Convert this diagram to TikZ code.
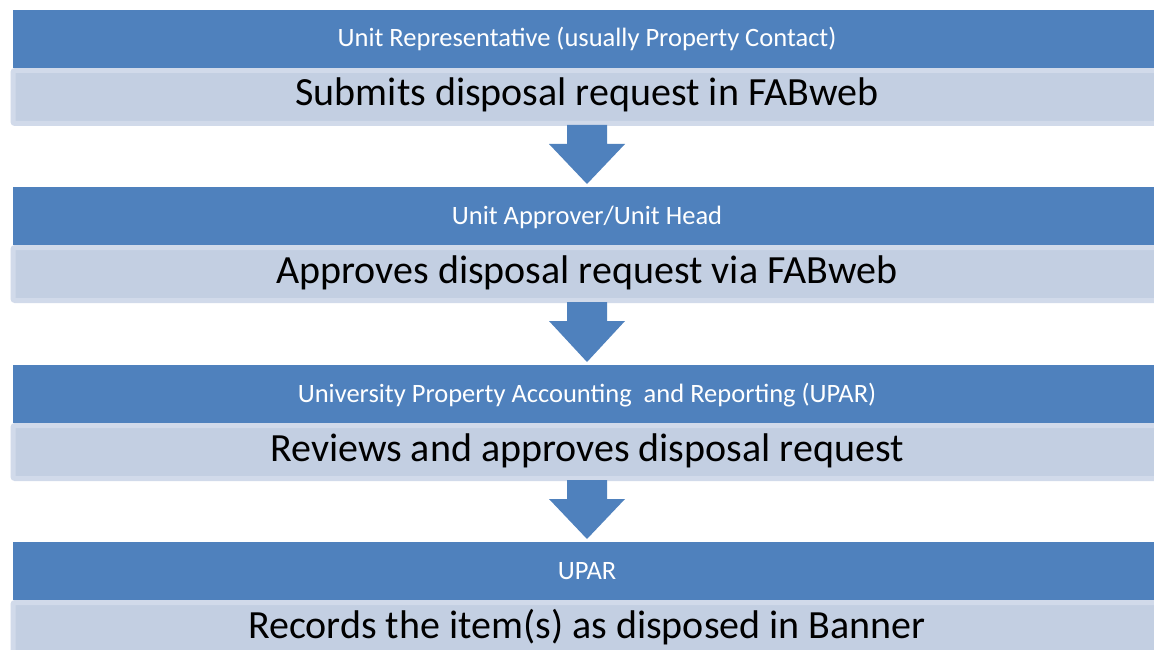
\documentclass[tikz,border=0pt]{standalone}
\usepackage{fontspec}
\setmainfont{Carlito}
\usetikzlibrary{calc}
\definecolor{barblue}{HTML}{4F81BD}
\definecolor{barlight}{HTML}{C3CFE2}
\definecolor{barrim}{HTML}{D1DAEA}
\tikzset{
  rolebar/.style={fill=barblue, draw=none, minimum width=1180pt, minimum height=58pt, inner sep=0pt, outer sep=0pt, anchor=west},
  actbar/.style={fill=barlight, draw=barrim, line width=5pt, rounded corners=2pt, minimum width=1180pt, minimum height=53pt, inner sep=0pt, outer sep=2.5pt, anchor=west},
  roletext/.style={anchor=base, text=white, font=\fontsize{26.5}{30}\selectfont, inner sep=0pt},
  acttext/.style={anchor=base, text=black, font=\fontsize{40}{46}\selectfont, inner sep=0pt},
  blockarrow/.style={fill=barblue, draw=none}
}
\newcommand{\flowstep}[4]{%
  \node[actbar] (a#1) at (10.5,{-(#2+87)}) {};
  \node[rolebar] (r#1) at (13,{-(#2+29)}) {};
  \node[roletext] (rt#1) at (587,{-(#2+37)}) {#3};
  \node[acttext] (at#1) at (587,{-(#2+96)}) {#4};
}
\newcommand{\flowarrow}[2]{%
  \coordinate (s#1) at ($(a#1.south west)!(587,0)!(a#1.south east)$);
  \coordinate (t#1) at ($(r#2.north west)!(587,0)!(r#2.north east)$);
  \fill[blockarrow] ($(s#1)+(-20,1)$) -- ($(s#1)+(20,1)$) -- ($(s#1)+(20,-18)$)
    -- ($(s#1)+(38,-18)$) -- ($(t#1)+(0,3)$) -- ($(s#1)+(-38,-18)$)
    -- ($(s#1)+(-20,-18)$) -- cycle;
}
\begin{document}
\begin{tikzpicture}[x=1pt,y=1pt]
\useasboundingbox (0,0) rectangle (1154,-650);
\fill[white] (0,0) rectangle (1154,-650);
\flowstep{1}{10}{Unit Representative (usually Property Contact)}{Submits disposal request in FABweb}
\flowstep{2}{187}{Unit Approver/Unit Head}{Approves disposal request via FABweb}
\flowstep{3}{365}{University Property Accounting \ and Reporting (UPAR)}{Reviews and approves disposal request}
\flowstep{4}{542}{UPAR}{Records the item(s) as disposed in Banner}
\flowarrow{1}{2}
\flowarrow{2}{3}
\flowarrow{3}{4}
\end{tikzpicture}
\end{document}
